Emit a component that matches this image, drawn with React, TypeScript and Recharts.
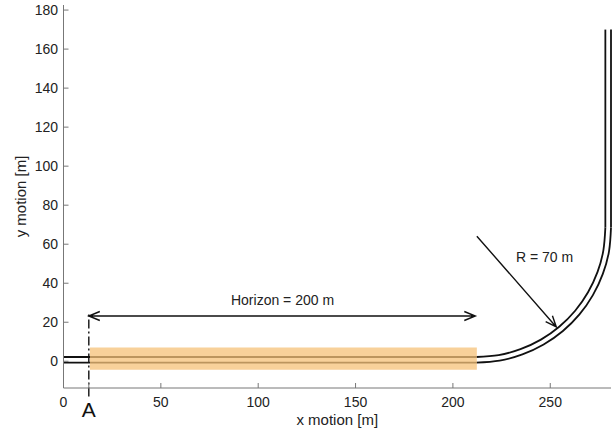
import React from "react";
import {
  ComposedChart,
  Line,
  XAxis,
  YAxis,
  ReferenceArea,
  ReferenceLine,
  ReferenceDot,
} from "recharts";

// pipe walls (metres)
const innerStraight = [
  { x: 0, y: 2.2 },
  { x: 212, y: 2.2 },
];
const innerBend = [
  { x: 212, y: 2.2 },
  { x: 223.5, y: 3.2 },
  { x: 234.7, y: 6.2 },
  { x: 245.2, y: 11.1 },
  { x: 254.6, y: 17.7 },
  { x: 262.8, y: 25.9 },
  { x: 269.4, y: 35.4 },
  { x: 274.3, y: 45.8 },
  { x: 277.3, y: 57.0 },
  { x: 278.3, y: 68.5 },
];
const innerRiser = [
  { x: 278.3, y: 68.5 },
  { x: 278.3, y: 170 },
];
const outerStraight = [
  { x: 0, y: -0.7 },
  { x: 212, y: -0.7 },
];
const outerBend = [
  { x: 212, y: -0.7 },
  { x: 224.0, y: 0.35 },
  { x: 235.7, y: 3.5 },
  { x: 246.6, y: 8.6 },
  { x: 256.5, y: 15.5 },
  { x: 265.0, y: 24.0 },
  { x: 271.9, y: 33.9 },
  { x: 277.0, y: 44.8 },
  { x: 280.2, y: 56.5 },
  { x: 281.2, y: 68.5 },
];
const outerRiser = [
  { x: 281.2, y: 68.5 },
  { x: 281.2, y: 170 },
];

const horizonBand = { x1: 13.6, x2: 212.3, y1: -4.3, y2: 7 };
const markerX = 13;
const horizonArrow = [
  { x: 13, y: 23.2 },
  { x: 211.5, y: 23.2 },
];
const radiusArrow = [
  { x: 212.3, y: 64.1 },
  { x: 253.1, y: 17.6 },
];

const xTicks = [0, markerX, 50, 100, 150, 200, 250];
const yTicks = [0, 20, 40, 60, 80, 100, 120, 140, 160, 180];

const font = "'Liberation Sans', Arial, Helvetica, sans-serif";

function head(tx: number, ty: number, fx: number, fy: number) {
  const dx = tx - fx;
  const dy = ty - fy;
  const len = Math.hypot(dx, dy) || 1;
  const ux = dx / len;
  const uy = dy / len;
  const L = 11;
  const W = 4.5;
  const bx = tx - ux * L;
  const by = ty - uy * L;
  return `M${bx - uy * W},${by + ux * W} L${tx},${ty} L${bx + uy * W},${by - ux * W}`;
}

function ArrowShape(both: boolean) {
  return (props: any) => {
    const { x1, y1, x2, y2 } = props;
    let d = `M${x1},${y1} L${x2},${y2} ` + head(x2, y2, x1, y1);
    if (both) d += " " + head(x1, y1, x2, y2);
    return <path d={d} stroke="#111" strokeWidth={1.4} fill="none" />;
  };
}

function XTick(props: any) {
  const { x, y, payload } = props;
  if (payload.value === markerX) {
    return (
      <text x={x} y={y + 7} textAnchor="middle" dominantBaseline="central" fontSize={21} fontFamily={font} fill="#111">
        A
      </text>
    );
  }
  return (
    <text x={x} y={y} textAnchor="middle" dominantBaseline="central" fontSize={14} fontFamily={font} fill="#222">
      {payload.value}
    </text>
  );
}

export default function App() {
  const wall = { stroke: "#111", strokeWidth: 1.8, dot: false, isAnimationActive: false, dataKey: "y" } as const;
  return (
    <div style={{ position: "absolute", left: 0, top: 0, background: "#fff" }}>
      <ComposedChart width={615} height={432} margin={{ top: 5, right: 4, bottom: 0, left: 0 }}>
        <XAxis
          type="number"
          dataKey="x"
          domain={[0, 281.2]}
          ticks={xTicks}
          height={44}
          tickSize={-5}
          tickMargin={19}
          tick={<XTick />}
          stroke="#777"
          interval={0}
          label={{ value: "x motion [m]", position: "insideBottom", offset: 7, fontSize: 15, fontFamily: font, fill: "#222" }}
        />
        <YAxis
          type="number"
          domain={[-13.7, 182.6]}
          ticks={yTicks}
          width={63.5}
          tickSize={-5}
          tickMargin={10.5}
          stroke="#777"
          interval={0}
          tick={{ fontSize: 14, fontFamily: font, fill: "#222" }}
          label={{
            value: "y motion [m]",
            angle: -90,
            position: "insideLeft",
            offset: 21,
            fontSize: 15,
            fontFamily: font,
            fill: "#222",
            style: { textAnchor: "middle" },
          }}
        />
        <Line data={innerStraight} type="linear" {...wall} />
        <Line data={innerBend} type="natural" {...wall} />
        <Line data={innerRiser} type="linear" {...wall} />
        <Line data={outerStraight} type="linear" {...wall} />
        <Line data={outerBend} type="natural" {...wall} />
        <Line data={outerRiser} type="linear" {...wall} />
        <ReferenceArea
          {...horizonBand}
          fill="#f5c278"
          fillOpacity={0.75}
          stroke="none"
          ifOverflow="visible"
          zIndex={600}
        />
        <ReferenceLine
          segment={[
            { x: markerX, y: -18 },
            { x: markerX, y: 25.3 },
          ]}
          stroke="#111"
          strokeWidth={1.4}
          strokeDasharray="9 3 2 3"
          ifOverflow="visible"
        />
        <ReferenceLine segment={horizonArrow} ifOverflow="visible" shape={ArrowShape(true)} />
        <ReferenceLine segment={radiusArrow} ifOverflow="visible" shape={ArrowShape(false)} />
        <ReferenceDot
          x={112.5}
          y={31.3}
          r={0}
          stroke="none"
          ifOverflow="visible"
          label={{ value: "Horizon = 200 m", position: "center", fontSize: 14, fontFamily: font, fill: "#222" }}
        />
        <ReferenceDot
          x={247.1}
          y={53.2}
          r={0}
          stroke="none"
          ifOverflow="visible"
          label={{ value: "R = 70 m", position: "center", fontSize: 14, fontFamily: font, fill: "#222" }}
        />
      </ComposedChart>
    </div>
  );
}
